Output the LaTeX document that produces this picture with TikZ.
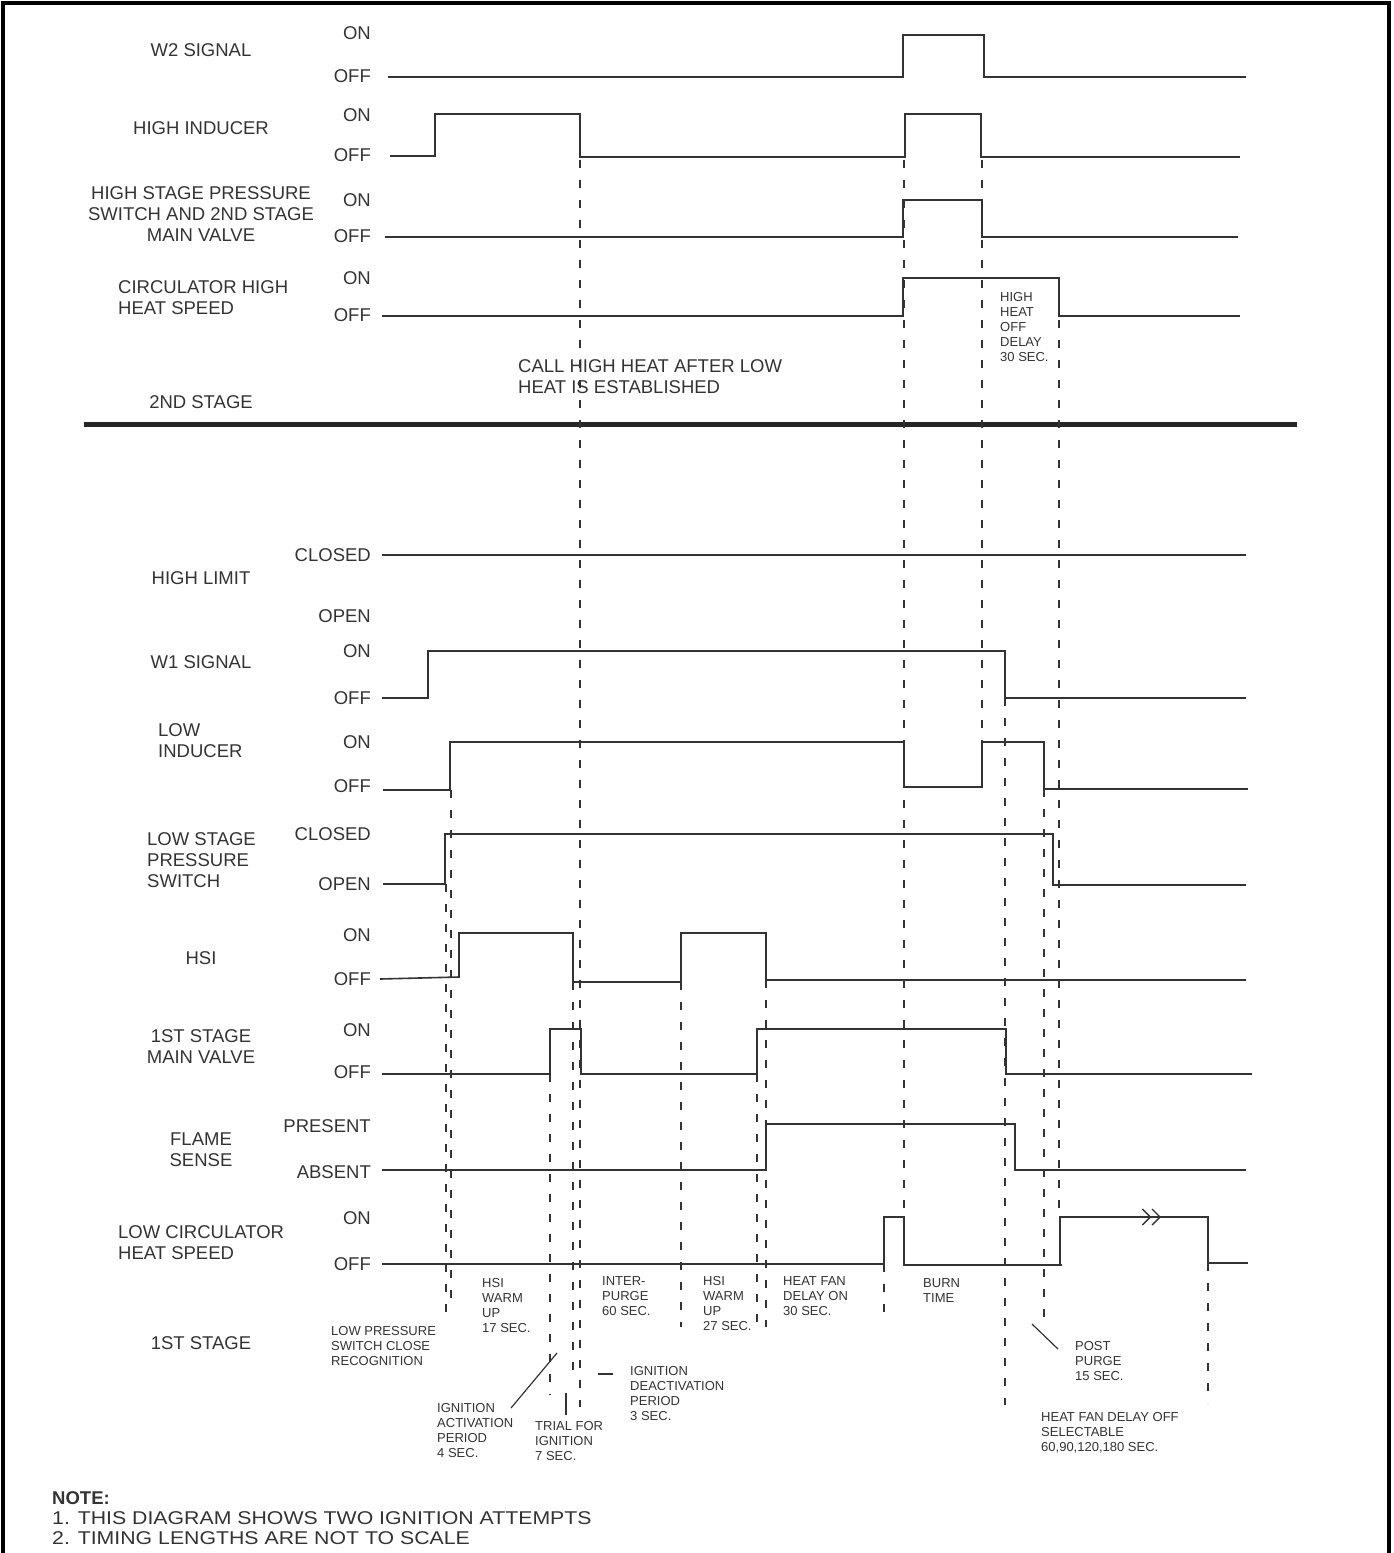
\documentclass[tikz,border=0pt]{standalone}
\usepackage{fontspec}
\setmainfont{Liberation Sans}
\newfontfamily\widefont[FakeStretch=1.15]{Liberation Sans}
\usetikzlibrary{arrows.meta}
\definecolor{ink}{HTML}{333333}
\tikzset{
    siglabel/.style={inner sep=0pt, text=ink, font=\fontsize{18.5}{21}\selectfont},
    statelbl/.style={siglabel, anchor=east},
    notelbl/.style={inner sep=0pt, text=ink, anchor=north west, align=left, font=\fontsize{13}{15}\selectfont},
    wavefm/.style={draw=ink, line width=1.6pt},
    guide/.style={draw=ink, line width=1.3pt, dash pattern=on 8pt off 12pt},
    leader/.style={draw=ink, line width=1.2pt},
    chev/.style={-{Straight Barb[length=8pt,width=16pt,line width=1.4pt]Straight Barb[length=8pt,width=16pt,line width=1.4pt]}}
}

\begin{document}
\begin{tikzpicture}[x=1pt,y=-1pt]
\useasboundingbox (0,0) rectangle (1394,1553);
\draw[line width=3.5pt] (3,1553) -- (3,3) -- (1389,3) -- (1389,1553);

% signal names
\node[siglabel] (w2) at (201,50) {W2 SIGNAL};
\node[siglabel] (hind) at (201,128) {HIGH INDUCER};
\node[siglabel, anchor=north, align=center] (hps) at (201,186) {HIGH STAGE PRESSURE\\SWITCH AND 2ND STAGE\\MAIN VALVE};
\node[siglabel, anchor=north west, align=left] (hcirc) at (118,280) {CIRCULATOR HIGH\\HEAT SPEED};
\node[siglabel] (stage2) at (201,402) {2ND STAGE};
\node[siglabel] (hlim) at (201,578) {HIGH LIMIT};
\node[siglabel] (w1) at (201,662) {W1 SIGNAL};
\node[siglabel, anchor=north west, align=left] (lind) at (158,723) {LOW\\INDUCER};
\node[siglabel, anchor=north west, align=left] (lps) at (147,832) {LOW STAGE\\PRESSURE\\SWITCH};
\node[siglabel] (hsi) at (201,958) {HSI};
\node[siglabel, anchor=north, align=center] (mv) at (201,1029) {1ST STAGE\\MAIN VALVE};
\node[siglabel, anchor=north, align=center] (flame) at (201,1133) {FLAME\\SENSE};
\node[siglabel, anchor=north west, align=left] (lcirc) at (118,1225) {LOW CIRCULATOR\\HEAT SPEED};
\node[siglabel] (stage1) at (201,1343) {1ST STAGE};
\node[siglabel, anchor=north west, align=left] (call) at (518,359) {CALL HIGH HEAT AFTER LOW\\HEAT IS ESTABLISHED};
\node[siglabel, anchor=north west, align=left, font=\fontsize{18.5}{20}\selectfont] (note) at (52,1491) {\textbf{NOTE:}\\{\widefont 1. THIS DIAGRAM SHOWS TWO IGNITION ATTEMPTS}\\{\widefont 2. TIMING LENGTHS ARE NOT TO SCALE}};

% levels
\foreach \y/\txt [count=\i] in {33/ON, 76/OFF, 115/ON, 155/OFF, 200/ON, 236/OFF, 278/ON, 315/OFF,
    555/CLOSED, 616/OPEN, 651/ON, 698/OFF, 742/ON, 786/OFF, 834/CLOSED, 884/OPEN,
    935/ON, 979/OFF, 1030/ON, 1072/OFF, 1126/PRESENT, 1172/ABSENT, 1218/ON, 1264/OFF}
    \node[statelbl] (st\i) at (371,\y) {\txt};

% 2nd stage waveforms
\draw[wavefm] (388,77) -- (903,77) -- (903,35) -- (984,35) -- (984,77) -- (1246,77);
\draw[wavefm] (390,156) -- (435,156) -- (435,114) -- (580,114) -- (580,157) -- (905,157) -- (905,114) -- (981,114) -- (981,157) -- (1240,157);
\draw[wavefm] (385,237) -- (903,237) -- (903,200) -- (982,200) -- (982,237) -- (1238,237);
\draw[wavefm] (382,316) -- (903,316) -- (903,278) -- (1059,278) -- (1059,316) -- (1240,316);
\draw[line width=5pt, draw=black!85] (84,424) -- (1297,424);

% 1st stage waveforms
\draw[wavefm] (382,555) -- (1246,555);
\draw[wavefm] (382,698) -- (428,698) -- (428,651) -- (1005,651) -- (1005,698) -- (1246,698);
\draw[wavefm] (383,790) -- (450,790) -- (450,742) -- (904,742) -- (904,787) -- (982,787) -- (982,742) -- (1044,742) -- (1044,789) -- (1248,789);
\draw[wavefm] (383,884) -- (445,884) -- (445,834) -- (1053,834) -- (1053,885) -- (1246,885);
\draw[wavefm] (380,979) -- (459,977) -- (459,933) -- (573,933) -- (573,982) -- (681,982) -- (681,933) -- (766,933) -- (766,980) -- (1246,980);
\draw[wavefm] (382,1074) -- (550,1074) -- (550,1029) -- (581,1029) -- (581,1074) -- (757,1074) -- (757,1029) -- (1006,1029) -- (1006,1074) -- (1252,1074);
\draw[wavefm] (382,1170) -- (766,1170) -- (766,1124) -- (1015,1124) -- (1015,1170) -- (1246,1170);
\draw[wavefm] (382,1264) -- (884,1264) -- (884,1217) -- (904,1217) -- (904,1265) -- (1062,1265);
\draw[wavefm] (1060,1265) -- (1060,1217) -- (1208,1217) -- (1208,1263) -- (1248,1263);
\draw[wavefm, chev] (1100,1217) -- (1161,1217);

% timing guides
\foreach \x/\ya/\yb in {580/160/1407, 904/160/1217, 982/160/742, 1059/320/1217,
    1005/698/1405, 1044/789/1327, 1208/1263/1403, 451/790/1300, 446/884/1317,
    550/1074/1395, 573/982/1377, 681/982/1327, 757/1074/1327, 766/980/1327, 884/1264/1317}
    \draw[guide] (\x,\ya) -- (\x,\yb);

% period notes
\node[notelbl] (hhoff) at (1000,292) {HIGH\\HEAT\\OFF\\DELAY\\30 SEC.};
\node[notelbl] (lpsc) at (331,1326) {LOW PRESSURE\\SWITCH CLOSE\\RECOGNITION};
\node[notelbl] (warm1) at (482,1278) {HSI\\WARM\\UP\\17 SEC.};
\node[notelbl] (purge) at (602,1276) {INTER-\\PURGE\\60 SEC.};
\node[notelbl] (warm2) at (703,1276) {HSI\\WARM\\UP\\27 SEC.};
\node[notelbl] (ignact) at (437,1403) {IGNITION\\ACTIVATION\\PERIOD\\4 SEC.};
\node[notelbl] (trial) at (535,1421) {TRIAL FOR\\IGNITION\\7 SEC.};
\node[notelbl] (igndeact) at (630,1366) {IGNITION\\DEACTIVATION\\PERIOD\\3 SEC.};
\node[notelbl] (fanon) at (783,1276) {HEAT FAN\\DELAY ON\\30 SEC.};
\node[notelbl] (burn) at (923,1278) {BURN\\TIME};
\node[notelbl] (post) at (1075,1341) {POST\\PURGE\\15 SEC.};
\node[notelbl] (fanoff) at (1041,1412) {HEAT FAN DELAY OFF\\SELECTABLE\\60,90,120,180 SEC.};

% leaders
\draw[leader] (511,1408) -- (557,1353);
\draw[leader] (566,1393) -- (566,1415);
\draw[leader] (598,1374) -- (613,1374);
\draw[leader] (1032,1324) -- (1058,1349);
\end{tikzpicture}
\end{document}
